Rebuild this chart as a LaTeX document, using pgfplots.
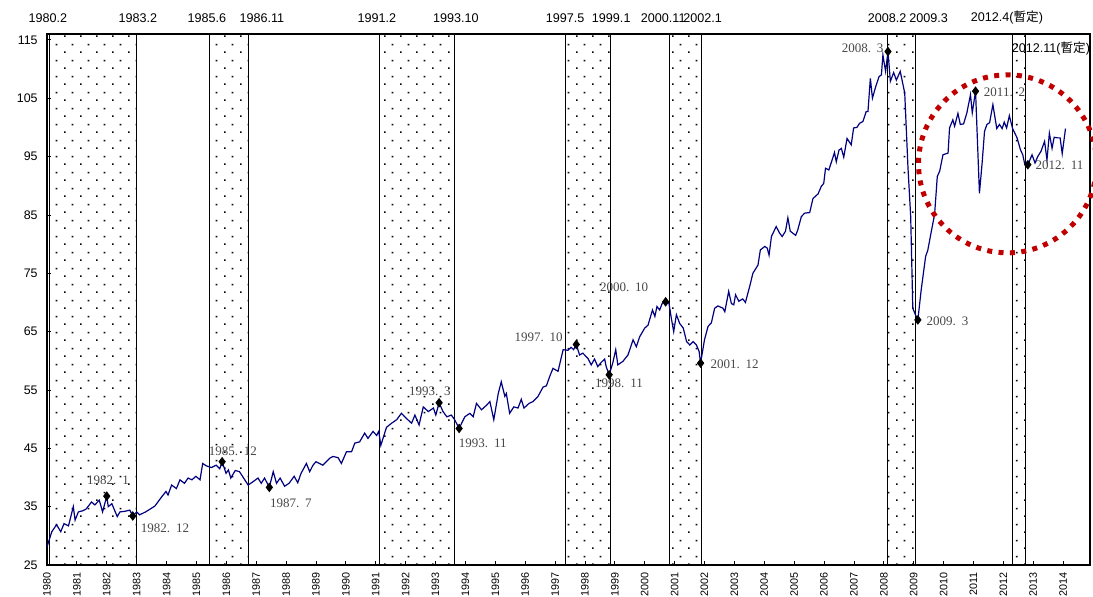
\documentclass[border=0pt]{standalone}
\usepackage{pgfplots}
\pgfplotsset{compat=1.18}
\usepackage{fontspec}
\setmainfont{Liberation Sans}
\newfontfamily\cjk{Noto Sans CJK JP}
\newfontfamily\serifl{Liberation Serif}
\usetikzlibrary{patterns}
\definecolor{navyline}{RGB}{0,0,128}
\definecolor{cred}{RGB}{192,0,0}
\pgfdeclarepatternformonly{sdots}{\pgfpointorigin}{\pgfqpoint{8pt}{8pt}}{\pgfqpoint{8pt}{8pt}}{%
  \pgfpathrectangle{\pgfqpoint{0pt}{0pt}}{\pgfqpoint{0.9pt}{0.9pt}}%
  \pgfpathrectangle{\pgfqpoint{4pt}{4pt}}{\pgfqpoint{0.9pt}{0.9pt}}%
  \pgfusepath{fill}}
\newcommand{\dl}[2]{#1.\hspace{0.45em}#2}
\newcommand{\lab}{\fontsize{6.3}{7}\selectfont}
\newcommand{\dlab}{\serifl\fontsize{6.5}{7}\selectfont\color{black!72}}

\pgfplotstableread{
x y
1980.00 28.1
1980.16 30.7
1980.32 31.9
1980.46 30.7
1980.57 32.1
1980.72 31.7
1980.88 35.0
1980.94 32.7
1981.05 34.1
1981.20 34.3
1981.31 34.6
1981.49 35.8
1981.60 35.3
1981.75 36.1
1981.86 34.1
1982.00 36.8
1982.05 35.0
1982.17 35.5
1982.35 33.3
1982.44 34.1
1982.60 34.2
1982.77 34.4
1982.87 33.4
1983.00 34.1
1983.10 33.6
1983.30 34.1
1983.61 35.1
1983.84 36.7
1983.98 37.6
1984.05 37.0
1984.17 38.7
1984.33 38.1
1984.45 39.6
1984.60 39.0
1984.72 39.9
1984.85 39.6
1984.98 40.2
1985.12 39.6
1985.21 42.4
1985.33 42.0
1985.50 41.7
1985.66 42.1
1985.78 41.5
1985.86 42.7
1985.99 40.7
1986.07 41.3
1986.15 39.9
1986.30 41.2
1986.44 41.0
1986.58 39.9
1986.73 38.7
1986.90 39.3
1987.06 39.9
1987.17 39.0
1987.28 39.9
1987.44 38.3
1987.57 41.0
1987.68 39.0
1987.80 39.9
1987.95 38.5
1988.10 39.0
1988.27 40.2
1988.39 39.1
1988.50 40.7
1988.68 42.4
1988.79 41.0
1988.90 42.1
1989.00 42.7
1989.23 42.1
1989.46 43.3
1989.57 43.6
1989.74 43.4
1989.85 42.4
1990.02 44.4
1990.19 44.4
1990.30 45.9
1990.46 46.1
1990.63 47.6
1990.74 46.7
1990.91 47.9
1991.03 47.2
1991.10 47.9
1991.17 45.5
1991.36 48.6
1991.53 49.3
1991.70 49.9
1991.86 51.0
1992.03 50.1
1992.20 49.3
1992.31 50.7
1992.45 49.0
1992.59 52.1
1992.76 51.3
1992.93 51.9
1993.01 50.7
1993.12 52.8
1993.25 51.3
1993.38 50.4
1993.53 50.7
1993.64 49.9
1993.79 48.4
1993.98 50.4
1994.15 51.0
1994.26 50.4
1994.37 52.7
1994.54 51.6
1994.71 52.4
1994.82 53.0
1994.95 49.9
1995.10 54.4
1995.20 56.4
1995.32 53.9
1995.37 54.4
1995.48 51.0
1995.62 52.1
1995.76 51.9
1995.87 53.4
1995.96 51.9
1996.13 52.7
1996.26 53.0
1996.43 53.9
1996.60 55.5
1996.71 55.7
1996.82 57.3
1996.93 58.7
1997.10 58.2
1997.27 61.9
1997.43 61.8
1997.54 62.3
1997.62 61.9
1997.71 62.8
1997.82 61.0
1997.93 61.3
1998.10 60.4
1998.21 59.3
1998.32 60.3
1998.43 59.0
1998.54 59.7
1998.66 60.3
1998.71 59.0
1998.81 57.6
1998.93 59.6
1999.03 61.9
1999.10 59.3
1999.27 59.9
1999.44 61.0
1999.61 63.6
1999.72 62.4
1999.83 64.1
2000.00 65.6
2000.11 66.1
2000.26 68.7
2000.34 67.6
2000.41 69.3
2000.50 68.7
2000.59 69.9
2000.70 70.1
2000.81 69.9
2000.89 67.3
2000.97 65.0
2001.06 67.9
2001.17 66.4
2001.29 65.6
2001.40 63.3
2001.51 62.7
2001.62 63.3
2001.73 62.7
2001.82 61.6
2001.87 59.6
2002.00 63.6
2002.12 65.9
2002.23 66.5
2002.34 69.0
2002.45 69.4
2002.62 69.0
2002.68 68.4
2002.81 71.9
2002.90 69.8
2002.98 69.6
2003.04 71.3
2003.15 70.2
2003.28 70.6
2003.37 70.0
2003.51 72.7
2003.62 75.0
2003.79 76.4
2003.87 79.0
2004.02 79.6
2004.10 79.3
2004.16 78.1
2004.24 81.3
2004.40 83.0
2004.51 81.9
2004.60 81.3
2004.71 82.2
2004.79 84.5
2004.87 82.2
2005.05 81.5
2005.12 82.4
2005.24 84.7
2005.35 85.3
2005.52 85.4
2005.63 87.8
2005.80 88.6
2005.91 89.9
2005.99 90.4
2006.05 93.0
2006.16 92.7
2006.27 94.4
2006.35 95.7
2006.41 94.1
2006.50 96.1
2006.58 96.4
2006.66 94.9
2006.77 98.1
2006.91 97.0
2006.99 99.9
2007.10 100.0
2007.19 100.7
2007.30 101.0
2007.41 102.7
2007.47 102.7
2007.55 108.4
2007.62 105.0
2007.73 107.0
2007.84 108.7
2007.92 109.0
2007.97 112.4
2008.06 109.6
2008.14 113.0
2008.22 107.9
2008.33 109.4
2008.42 108.1
2008.55 109.6
2008.70 105.9
2008.81 93.0
2008.90 84.7
2008.97 69.0
2009.05 68.0
2009.14 67.0
2009.25 72.1
2009.40 77.9
2009.47 78.9
2009.58 81.9
2009.70 85.1
2009.79 91.6
2009.87 92.5
2009.98 95.3
2010.09 95.5
2010.15 95.6
2010.20 99.9
2010.31 101.3
2010.37 100.2
2010.48 102.4
2010.56 100.5
2010.67 100.6
2010.78 102.5
2010.90 105.6
2010.96 102.5
2011.07 106.2
2011.20 88.7
2011.29 93.9
2011.37 99.3
2011.45 100.5
2011.54 100.8
2011.65 103.9
2011.78 99.8
2011.87 100.5
2011.96 99.8
2012.03 100.9
2012.11 99.9
2012.20 102.0
2012.31 99.8
2012.46 98.2
2012.57 96.2
2012.65 95.3
2012.72 93.6
2012.82 93.6
2012.96 95.3
2013.06 93.9
2013.15 95.0
2013.26 95.9
2013.38 97.6
2013.46 94.4
2013.54 99.0
2013.63 96.4
2013.70 98.3
2013.82 98.2
2013.90 98.2
2013.97 95.5
2014.08 99.8
}\iip

\pgfplotstableread{
x y
1982.00 36.8
1982.87 33.4
1985.86 42.7
1987.44 38.3
1993.12 52.8
1993.79 48.4
1997.71 62.8
1998.81 57.6
2000.70 70.1
2001.87 59.6
2008.14 113.0
2009.14 67.0
2011.07 106.2
2012.82 93.6
}\turns

\begin{document}
\begin{tikzpicture}
\path[use as bounding box] (-23.5pt,-15.5pt) rectangle (523pt,282.5pt);
\clip (-23.5pt,-15.5pt) rectangle (523pt,282.5pt);
\begin{axis}[
  at={(0,0)}, anchor=south west,
  scale only axis, width=521.5pt, height=265.5pt,
  xmin=1980, xmax=2014.9, ymin=25, ymax=116,
  xtick={1980,1981,...,2014}, minor x tick num=11,
  ytick={25,35,...,115},
  tick align=inside,
  xtick pos=left, ytick pos=left,
  major tick length=2pt, minor tick length=1pt,
  tick style={black, line width=0.4pt},
  axis line style={line width=0.75pt},
  clip=false,
  /pgf/number format/assume math mode=true,
  /pgf/number format/1000 sep={},
  xticklabel style={font=\fontsize{5.4}{6}\selectfont, rotate=90, anchor=east, inner sep=0pt},
  xticklabel shift=3.5pt,
  yticklabel style={font=\fontsize{6.2}{7}\selectfont, anchor=east, inner sep=0pt},
  yticklabel shift=4.5pt,
]
% recession bands
\addplot[draw=black, line width=0.5pt, pattern=sdots, forget plot] coordinates {(1980.10,25) (1980.10,116) (1982.98,116) (1982.98,25)} -- cycle;
\addplot[draw=black, line width=0.5pt, pattern=sdots, forget plot] coordinates {(1985.43,25) (1985.43,116) (1986.73,116) (1986.73,25)} -- cycle;
\addplot[draw=black, line width=0.5pt, pattern=sdots, forget plot] coordinates {(1991.14,25) (1991.14,116) (1993.65,116) (1993.65,25)} -- cycle;
\addplot[draw=black, line width=0.5pt, pattern=sdots, forget plot] coordinates {(1997.36,25) (1997.36,116) (1998.85,116) (1998.85,25)} -- cycle;
\addplot[draw=black, line width=0.5pt, pattern=sdots, forget plot] coordinates {(2000.84,25) (2000.84,116) (2001.90,116) (2001.90,25)} -- cycle;
\addplot[draw=black, line width=0.5pt, pattern=sdots, forget plot] coordinates {(2008.13,25) (2008.13,116) (2009.06,116) (2009.06,25)} -- cycle;
\addplot[draw=black, line width=0.5pt, pattern=sdots, forget plot] coordinates {(2012.31,25) (2012.31,116) (2012.73,116) (2012.73,25)} -- cycle;
\addplot[navyline, line width=0.6pt, no marks] table[x=x,y=y] {\iip};
\addplot[only marks, mark=diamond*, mark size=2.1pt, black] table[x=x,y=y] {\turns};
% top labels
\node[font=\lab, inner sep=0pt] at (axis cs:1980.03,118.78) {1980.2};
\node[font=\lab, inner sep=0pt] at (axis cs:1983.04,118.78) {1983.2};
\node[font=\lab, inner sep=0pt] at (axis cs:1985.35,118.78) {1985.6};
\node[font=\lab, inner sep=0pt] at (axis cs:1987.19,118.78) {1986.11};
\node[font=\lab, inner sep=0pt] at (axis cs:1991.04,118.78) {1991.2};
\node[font=\lab, inner sep=0pt] at (axis cs:1993.68,118.78) {1993.10};
\node[font=\lab, inner sep=0pt] at (axis cs:1997.34,118.78) {1997.5};
\node[font=\lab, inner sep=0pt] at (axis cs:1998.88,118.78) {1999.1};
\node[font=\lab, inner sep=0pt] at (axis cs:2000.62,118.78) {2000.11};
\node[font=\lab, inner sep=0pt] at (axis cs:2001.94,118.78) {2002.1};
\node[font=\lab, inner sep=0pt] at (axis cs:2008.11,118.78) {2008.2};
\node[font=\lab, inner sep=0pt] at (axis cs:2009.50,118.78) {2009.3};
\node[font=\lab, inner sep=0pt] at (axis cs:2012.12,118.78) {2012.4({\cjk 暫定})};
\node[font=\lab, inner sep=0pt, anchor=west] at (axis cs:2012.27,113.6) {2012.11({\cjk 暫定})};
% data labels
\node[font=\dlab] at (axis cs:1982.04,39.57) {\dl{1982}{1}};
\node[font=\dlab] at (axis cs:1983.95,31.34) {\dl{1982}{12}};
\node[font=\dlab] at (axis cs:1986.22,44.54) {\dl{1985}{12}};
\node[font=\dlab] at (axis cs:1988.16,35.63) {\dl{1987}{7}};
\node[font=\dlab] at (axis cs:1992.81,54.83) {\dl{1993}{3}};
\node[font=\dlab] at (axis cs:1994.58,45.92) {\dl{1993}{11}};
\node[font=\dlab] at (axis cs:1996.45,64.09) {\dl{1997}{10}};
\node[font=\dlab] at (axis cs:1999.14,56.20) {\dl{1998}{11}};
\node[font=\dlab] at (axis cs:1999.31,72.66) {\dl{2000}{10}};
\node[font=\dlab] at (axis cs:2003.01,59.46) {\dl{2001}{12}};
\node[font=\dlab] at (axis cs:2007.29,113.63) {\dl{2008}{3}};
\node[font=\dlab] at (axis cs:2010.13,66.83) {\dl{2009}{3}};
\node[font=\dlab] at (axis cs:2012.04,106.09) {\dl{2011}{2}};
\node[font=\dlab] at (axis cs:2013.88,93.58) {\dl{2012}{11}};
% highlight circle
\draw[cred, line width=2.5pt, dash pattern=on 2.5pt off 3.2pt] (axis cs:2012.14,93.75) circle[radius=44.5pt];
\end{axis}
\end{tikzpicture}
\end{document}
